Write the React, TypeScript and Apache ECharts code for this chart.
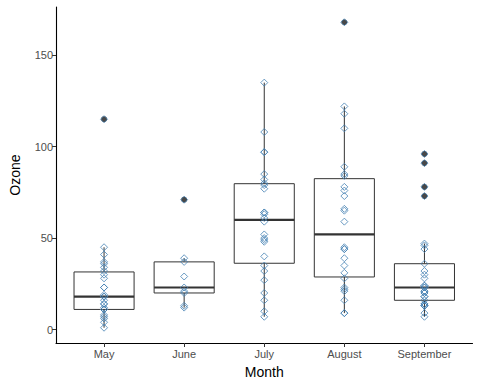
import React, { useEffect, useRef } from "react";
import * as echarts from "echarts";

const months = ["May", "June", "July", "August", "September"];

const mayOzone = [41, 36, 12, 18, 28, 23, 19, 8, 7, 16, 11, 14, 18, 14, 34, 6, 30, 11, 1, 11, 4, 32, 23, 45, 115, 37];
const juneOzone = [29, 71, 39, 23, 21, 37, 20, 12, 13];
const julyOzone = [135, 49, 32, 64, 40, 77, 97, 97, 85, 10, 27, 7, 48, 35, 61, 79, 63, 16, 80, 108, 20, 52, 82, 50, 64, 59];
const augustOzone = [39, 9, 16, 78, 35, 66, 122, 89, 110, 44, 28, 65, 22, 59, 23, 31, 44, 21, 9, 45, 168, 73, 76, 118, 84, 85];
const septemberOzone = [96, 78, 73, 91, 47, 32, 20, 23, 21, 24, 44, 21, 28, 9, 13, 46, 18, 13, 24, 16, 13, 23, 36, 7, 14, 30, 14, 18, 20];

// box statistics per month: lower whisker, Q1, median, Q3, upper whisker
const whiskerLow = [1, 12, 7, 9, 7];
const q1 = [11, 20, 36.25, 28.75, 16];
const median = [18, 23, 60, 52, 23];
const q3 = [31.5, 37, 79.75, 82.5, 36];
const whiskerHigh = [45, 39, 135, 122, 47];
const outliers = [[115], [71], [], [168], [96, 78, 73, 91]];

const yTicks = [0, 50, 100, 150];

const allOzone = [mayOzone, juneOzone, julyOzone, augustOzone, septemberOzone];

export default function App() {
  const ref = useRef<HTMLDivElement>(null);
  useEffect(() => {
    if (!ref.current) return;
    const chart = echarts.init(ref.current, null, { renderer: "svg" });
    const boxData = months.map((_, i) => [i + 1, whiskerLow[i], q1[i], median[i], q3[i], whiskerHigh[i]]);
    const outlierData: number[][] = [];
    outliers.forEach((arr, i) => arr.forEach((v) => outlierData.push([i + 1, v])));
    const pointData: number[][] = [];
    allOzone.forEach((arr, i) => arr.forEach((v) => pointData.push([i + 1, v])));
    const stroke = "#333333";
    const font = "Liberation Sans, Arial, Helvetica, sans-serif";
    const rich = { t: { color: "#4d4d4d", fontSize: 11, fontFamily: font } };
    chart.setOption({
      animation: false,
      grid: { left: 51, right: 7.5, top: 7, bottom: 41, containLabel: false },
      xAxis: {
        type: "value",
        min: 0.4,
        max: 5.6,
        name: "Month",
        nameLocation: "middle",
        nameGap: 22,
        nameTextStyle: { color: "#000", fontSize: 14, fontFamily: font },
        axisLine: { show: true, onZero: false, lineStyle: { color: "#000", width: 1.1 } },
        axisTick: { show: true, length: 4, customValues: [1, 2, 3, 4, 5], lineStyle: { color: "#333", width: 1 } },
        axisLabel: {
          customValues: [1, 2, 3, 4, 5],
          formatter: (v: number) => "{t|" + (months[Math.round(v) - 1] || "") + "}",
          rich,
          color: "#4d4d4d",
          fontSize: 11,
          fontFamily: font,
          margin: 5,
        },
        splitLine: { show: false },
      },
      yAxis: {
        type: "value",
        min: -7.35,
        max: 176.35,
        name: "Ozone",
        nameLocation: "middle",
        nameGap: 34,
        nameRotate: 90,
        nameTextStyle: { color: "#000", fontSize: 14, fontFamily: font },
        axisLine: { show: true, onZero: false, lineStyle: { color: "#000", width: 1.1 } },
        axisTick: { show: true, length: 4, customValues: yTicks, lineStyle: { color: "#333", width: 1 } },
        axisLabel: {
          customValues: yTicks,
          formatter: (v: number) => "{t|" + String(Math.round(v)) + "}",
          rich,
          color: "#4d4d4d",
          fontSize: 11,
          fontFamily: font,
          margin: 3,
        },
        splitLine: { show: false },
      },
      series: [
        {
          type: "custom",
          z: 1,
          encode: { x: 0, y: [1, 2, 3, 4, 5] },
          data: boxData,
          renderItem: (params: any, api: any) => {
            const x = api.value(0);
            const pLow = api.coord([x, api.value(1)]);
            const pQ1 = api.coord([x, api.value(2)]);
            const pMed = api.coord([x, api.value(3)]);
            const pQ3 = api.coord([x, api.value(4)]);
            const pHigh = api.coord([x, api.value(5)]);
            const halfW = api.size([0.75, 0])[0] / 2;
            return {
              type: "group",
              children: [
                { type: "line", shape: { x1: pHigh[0], y1: pHigh[1], x2: pQ3[0], y2: pQ3[1] }, style: { stroke, lineWidth: 1 } },
                { type: "line", shape: { x1: pLow[0], y1: pLow[1], x2: pQ1[0], y2: pQ1[1] }, style: { stroke, lineWidth: 1 } },
                {
                  type: "rect",
                  shape: { x: pQ3[0] - halfW, y: pQ3[1], width: 2 * halfW, height: pQ1[1] - pQ3[1] },
                  style: { fill: "#ffffff", stroke, lineWidth: 1 },
                },
                { type: "line", shape: { x1: pMed[0] - halfW, y1: pMed[1], x2: pMed[0] + halfW, y2: pMed[1] }, style: { stroke, lineWidth: 2.2 } },
              ],
            };
          },
        },
        {
          type: "scatter",
          z: 2,
          data: outlierData,
          symbol: "circle",
          symbolSize: 6,
          itemStyle: { color: "#1a1a1a" },
        },
        {
          type: "scatter",
          z: 3,
          data: pointData,
          symbol: "diamond",
          symbolSize: 7,
          itemStyle: { color: "rgba(0,0,0,0)", borderColor: "#4682B4", borderWidth: 1 },
        },
      ],
    });
    return () => chart.dispose();
  }, []);
  return <div ref={ref} style={{ width: 480, height: 384, position: "absolute", left: 0, top: 0 }} />;
}
